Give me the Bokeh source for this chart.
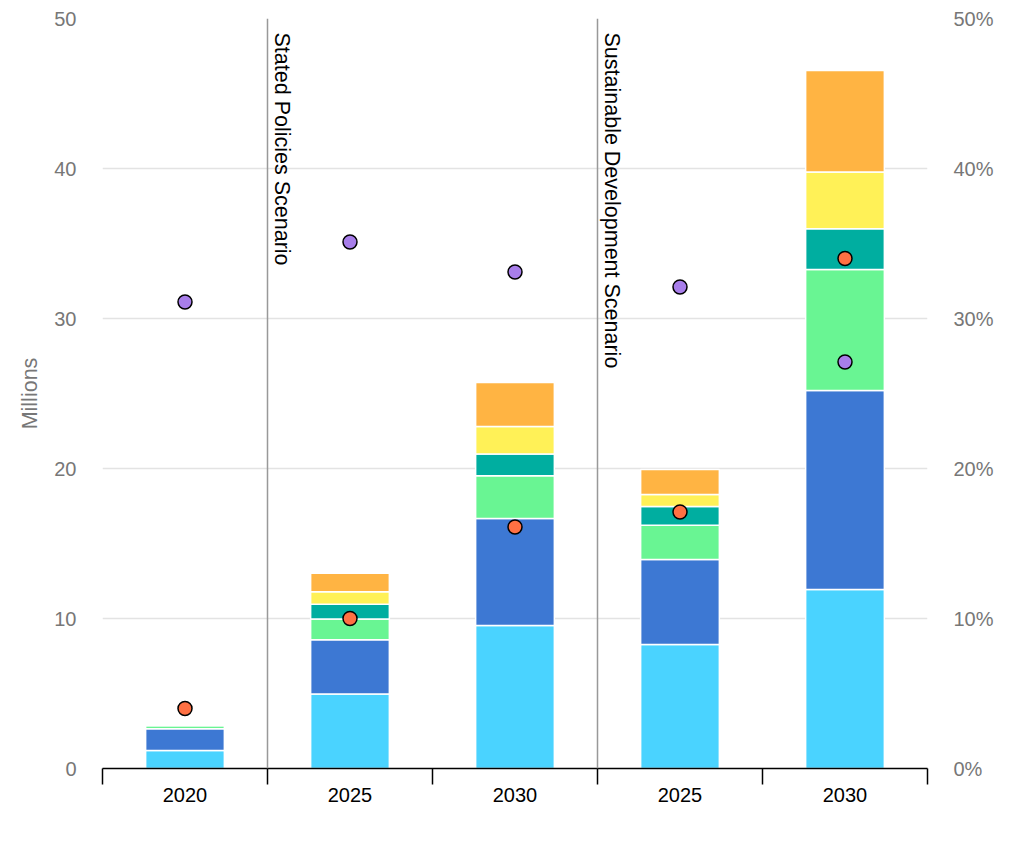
from bokeh.plotting import figure
from bokeh.models import (ColumnDataSource, Range1d, LinearAxis, FixedTicker,
                          PrintfTickFormatter, Span)
from bokeh.core.properties import value
from bokeh.embed import file_html
from bokeh.resources import INLINE

# ---- data ----
categories = ["2020", "2025", "2030", "2025", "2030"]
scenarios = ["Stated Policies Scenario", "Sustainable Development Scenario"]
scenario_start = [1, 3]  # index of first category of each scenario

seg_1 = [1.20, 4.96, 9.53, 8.27, 11.93]
seg_2 = [1.45, 3.62, 7.14, 5.66, 13.27]
seg_3 = [0.22, 1.38, 2.84, 2.29, 8.07]
seg_4 = [0.00, 0.99, 1.45, 1.25, 2.71]
seg_5 = [0.00, 0.83, 1.84, 0.80, 3.78]
seg_6 = [0.00, 1.24, 2.93, 1.66, 6.77]

pct_orange = [4.0, 10.0, 16.1, 17.1, 34.0]
pct_purple = [31.1, 35.1, 33.1, 32.1, 27.1]

y_ticks = [0, 10, 20, 30, 40, 50]

seg_colors = ["#4AD3FF", "#3D78D3", "#69F593", "#00AEA0", "#FFF157", "#FFB443"]
FONT = "Liberation Sans"

# ---- build ----
n = len(categories)
xs = [i + 0.5 for i in range(n)]
src = ColumnDataSource(dict(x=xs, s1=seg_1, s2=seg_2, s3=seg_3, s4=seg_4,
                            s5=seg_5, s6=seg_6, po=pct_orange, pp=pct_purple))

p = figure(width=1008, height=837, output_backend="svg", toolbar_location=None,
           x_range=Range1d(0, n), y_range=Range1d(0, 50),
           min_border_left=102, min_border_right=81, min_border_top=18,
           min_border_bottom=69)
p.outline_line_color = None
p.background_fill_color = "white"
p.border_fill_color = "white"

p.extra_y_ranges = {"pct": Range1d(0, 50)}

# grid
p.xgrid.visible = False
p.ygrid.ticker = FixedTicker(ticks=y_ticks)
p.ygrid.grid_line_color = "#E3E3E3"
p.ygrid.grid_line_width = 1.5

# left axis
ya = p.yaxis[0]
ya.ticker = FixedTicker(ticks=y_ticks)
ya.axis_line_color = None
ya.major_tick_line_color = None
ya.minor_tick_line_color = None
ya.major_tick_out = 0
ya.major_tick_in = 0
ya.minor_tick_out = 0
ya.major_label_text_color = "#777777"
ya.major_label_text_font = FONT
ya.major_label_text_font_size = "20px"
ya.major_label_standoff = 26
ya.axis_label = "Millions"
ya.axis_label_text_color = "#777777"
ya.axis_label_text_font = FONT
ya.axis_label_text_font_size = "21.5px"
ya.axis_label_text_font_style = "normal"
ya.axis_label_standoff = 9

# right axis
ra = LinearAxis(y_range_name="pct", ticker=FixedTicker(ticks=y_ticks),
                formatter=PrintfTickFormatter(format="%d%%"))
ra.axis_line_color = None
ra.major_tick_line_color = None
ra.minor_tick_line_color = None
ra.major_tick_out = 0
ra.major_tick_in = 0
ra.minor_tick_out = 0
ra.major_label_text_color = "#777777"
ra.major_label_text_font = FONT
ra.major_label_text_font_size = "20px"
ra.major_label_standoff = 26
p.add_layout(ra, "right")

# bottom axis: labels at centres, tick marks at boundaries (minor ticks)
xa = p.xaxis[0]
xa.ticker = FixedTicker(ticks=xs, minor_ticks=list(range(n + 1)))
xa.major_label_overrides = {x: c for x, c in zip(xs, categories)}
xa.major_tick_line_color = None
xa.major_tick_out = 0
xa.major_tick_in = 0
xa.minor_tick_line_color = "black"
xa.minor_tick_line_width = 1.5
xa.minor_tick_out = 16
xa.minor_tick_in = 0
xa.axis_line_color = "black"
xa.axis_line_width = 1.5
xa.major_label_text_color = "black"
xa.major_label_text_font = FONT
xa.major_label_text_font_size = "20px"
xa.major_label_standoff = 3

# scenario separators
for s in scenario_start:
    p.add_layout(Span(location=s, dimension="height", line_color="#999999",
                      line_width=1.5))

# stacked bars
p.vbar_stack(["s1", "s2", "s3", "s4", "s5", "s6"], x="x", width=0.477,
             color=seg_colors, line_color="white", line_width=1.5, source=src)

# scenario labels
lab_src = ColumnDataSource(dict(x=scenario_start, y=[50] * len(scenarios),
                                t=scenarios))
p.text(x="x", y="y", text="t", source=lab_src, angle=-1.5707963,
       text_align="left", text_baseline="middle", x_offset=14, y_offset=14,
       text_font=value(FONT), text_font_size="21.5px", text_color="black")

# markers on right axis
p.scatter(x="x", y="pp", source=src, y_range_name="pct", size=14,
          fill_color="#A87EEA", line_color="black", line_width=1.5)
p.scatter(x="x", y="po", source=src, y_range_name="pct", size=14,
          fill_color="#FF7043", line_color="black", line_width=1.5)

open("out.html", "w").write(file_html(p, INLINE))
